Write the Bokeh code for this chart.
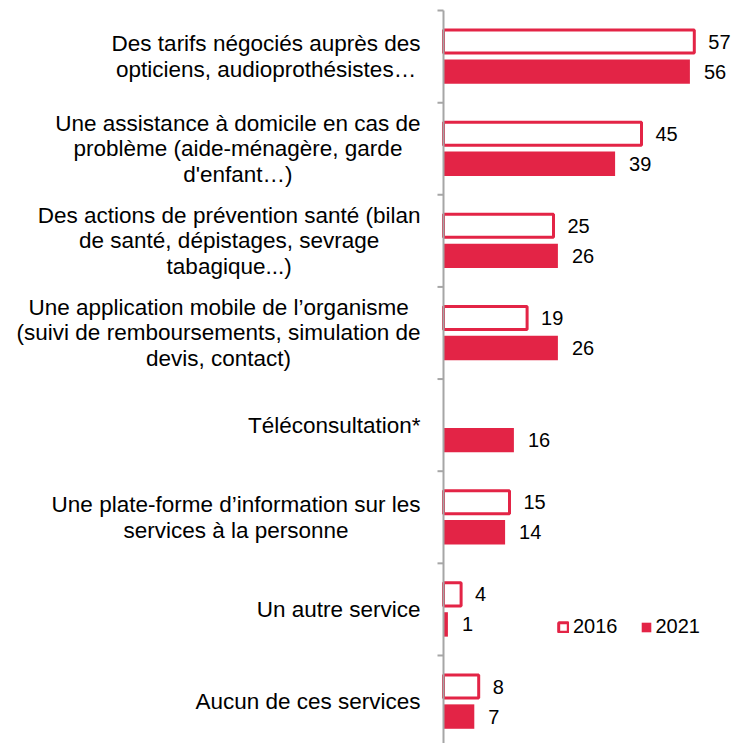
from bokeh.plotting import figure
from bokeh.models import Range1d, ColumnDataSource, Legend, LegendItem
from bokeh.embed import file_html
from bokeh.resources import INLINE
from bokeh.core.properties import value

# ---- data ----
categories = [
    "Des tarifs négociés auprès des\nopticiens, audioprothésistes…",
    "Une assistance à domicile en cas de\nproblème (aide-ménagère, garde\nd'enfant…)",
    "Des actions de prévention santé (bilan\nde santé, dépistages, sevrage\ntabagique...)",
    "Une application mobile de l’organisme\n(suivi de remboursements, simulation de\ndevis, contact)",
    "Téléconsultation*",
    "Une plate-forme d’information sur les\nservices à la personne",
    "Un autre service",
    "Aucun de ces services",
]
values_2016 = [57, 45, 25, 19, None, 15, 4, 8]
values_2021 = [56, 39, 26, 26, 16, 14, 1, 7]
series_names = ["2016", "2021"]

# ---- style ----
RED = "#E32446"
GREY = "#A6A6A6"
FONT = "Liberation Sans"
W, H = 731, 743
AXIS_PX = 443          # x pixel of the category axis
PX_PER_UNIT = 4.4
LABEL_SIZE = 22.5
LABEL_GAP = 23         # gap between label block and axis
TICK_PX = 6

# Arial / Liberation Sans advance widths (per 1000 em) used to right-align
# the centred multi-line category labels
CW = {' ': 278, '(': 333, ')': 333, '*': 389, ',': 278, '-': 333, '.': 278,
      "'": 191, '’': 222, '…': 1000, 'A': 667, 'D': 722, 'P': 667, 'T': 611,
      'U': 722, 'c': 500, 'f': 278, 'i': 222, 'j': 222, 'k': 500, 'l': 222,
      'm': 833, 'r': 333, 's': 500, 't': 278, 'v': 500, 'w': 722, 'x': 500,
      'y': 500, 'z': 500}


def text_width(s):
    return sum(CW.get(ch, 556) for ch in s) * LABEL_SIZE / 1000.0


pos = list(range(len(categories)))
off = 0.163

src16 = ColumnDataSource(dict(
    y=[p_ - off for p_ in pos],
    x=[float("nan") if v is None else v for v in values_2016],
    t=["" if v is None else str(v) for v in values_2016],
))
src21 = ColumnDataSource(dict(
    y=[p_ + off for p_ in pos],
    x=values_2021,
    t=[str(v) for v in values_2021],
))
lab_src = ColumnDataSource(dict(
    y=pos,
    x=[0] * len(pos),
    t=categories,
    xo=[-LABEL_GAP - max(text_width(l) for l in c.split("\n")) / 2.0 for c in categories],
))

n = len(categories)
pitch = 92.14
top = -0.5 - 10 / pitch
bottom = top + H / pitch

p = figure(width=W, height=H, output_backend="svg", toolbar_location=None,
           x_range=Range1d(-AXIS_PX / PX_PER_UNIT, (W - AXIS_PX) / PX_PER_UNIT),
           y_range=Range1d(bottom, top),
           min_border=0, x_axis_type=None, y_axis_type=None)
p.outline_line_color = None
p.grid.visible = False
p.background_fill_color = "white"

r16 = p.hbar(y="y", right="x", left=0, height=0.25, source=src16,
             fill_color="white", line_color=RED, line_width=3)
r21 = p.hbar(y="y", right="x", left=0, height=0.265, source=src21,
             fill_color=RED, line_color=None)

# category axis line and boundary ticks
bounds = [i - 0.5 for i in range(n + 1)]
p.segment(x0=[0], x1=[0], y0=[bounds[0]], y1=[bounds[-1]], line_color=GREY, line_width=2)
p.segment(x0=[0] * len(bounds), x1=[-TICK_PX / PX_PER_UNIT] * len(bounds),
          y0=bounds, y1=bounds, line_color=GREY, line_width=2)

# category labels
p.text(x="x", y="y", text="t", x_offset="xo", source=lab_src,
       text_align="center", text_baseline="middle", text_line_height=1.02,
       text_font=value(FONT), text_font_size=f"{LABEL_SIZE}px", text_color="black")

# value labels
for src in (src16, src21):
    p.text(x="x", y="y", text="t", source=src, x_offset=14,
           text_align="left", text_baseline="middle",
           text_font=value(FONT), text_font_size="20px", text_color="black")

legend = Legend(items=[LegendItem(label=series_names[0], renderers=[r16]),
                       LegendItem(label=series_names[1], renderers=[r21])],
                orientation="horizontal", location=(557, 105),
                glyph_width=12, glyph_height=12, label_standoff=4, spacing=22,
                padding=0, margin=0, border_line_color=None, background_fill_alpha=0,
                label_text_font=FONT, label_text_font_size="20px", label_text_color="black")
p.add_layout(legend, "center")

open("out.html", "w").write(file_html(p, INLINE))
